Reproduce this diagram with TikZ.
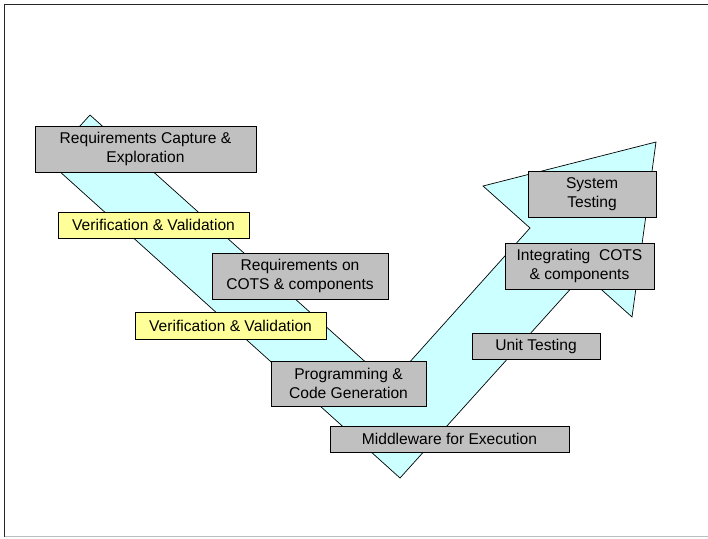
\documentclass[tikz,border=0pt]{standalone}
\usepackage{fontspec}
\setmainfont{Liberation Sans}
\definecolor{boxgray}{RGB}{192,192,192}
\definecolor{vvyellow}{RGB}{255,255,153}
\definecolor{vcyan}{RGB}{204,255,255}
\definecolor{framegray}{RGB}{190,190,190}
\tikzset{
  txt/.style={font=\fontsize{15.6}{18.5}\selectfont, align=center, inner sep=0pt, draw=black, line width=0.8pt},
  graybox/.style={txt, fill=boxgray},
  yellowbox/.style={txt, fill=vvyellow},
}
\begin{document}
\begin{tikzpicture}[x=1pt,y=-1pt]
\useasboundingbox (0,0) rectangle (708,538);
% page frame
\draw[line width=1pt, black!85] (4.5,537) -- (4.5,4.5) -- (708,4.5);
\draw[line width=1pt, framegray] (4.5,536.5) -- (708,536.5);

% the V: descending band joined to a rising arrow
\draw[fill=vcyan, line width=0.7pt, line join=miter]
  (90,115) -- (390,384) -- (530,228) -- (483,186) -- (656,142)
  -- (632,317) -- (584,274) -- (400,478) -- (48,161) -- cycle;

% activity boxes
\node[graybox, minimum width=221pt, minimum height=46pt] (reqcap) at (145.5,149) {Requirements Capture \&\\Exploration};
\node[yellowbox, minimum width=191pt, minimum height=26pt] (vv1) at (153.5,225) {Verification \& Validation};
\node[graybox, minimum width=176pt, minimum height=46pt] (reqcots) at (300,276) {Requirements on\\COTS \& components};
\node[yellowbox, minimum width=191pt, minimum height=27pt] (vv2) at (230.5,325.5) {Verification \& Validation};
\node[graybox, minimum width=155pt, minimum height=45pt] (prog) at (348.5,383.5) {Programming \&\\Code Generation};
\node[graybox, minimum width=239pt, minimum height=26pt] (mw) at (449.5,439) {Middleware for Execution};
\node[graybox, minimum width=128pt, minimum height=26pt] (unit) at (536,346) {Unit Testing};
\node[graybox, minimum width=149pt, minimum height=46pt] (integ) at (579.5,266) {Integrating~ COTS\\\& components};
\node[graybox, minimum width=128pt, minimum height=46pt] (systest) at (592,194) {System\\Testing};
\end{tikzpicture}
\end{document}
